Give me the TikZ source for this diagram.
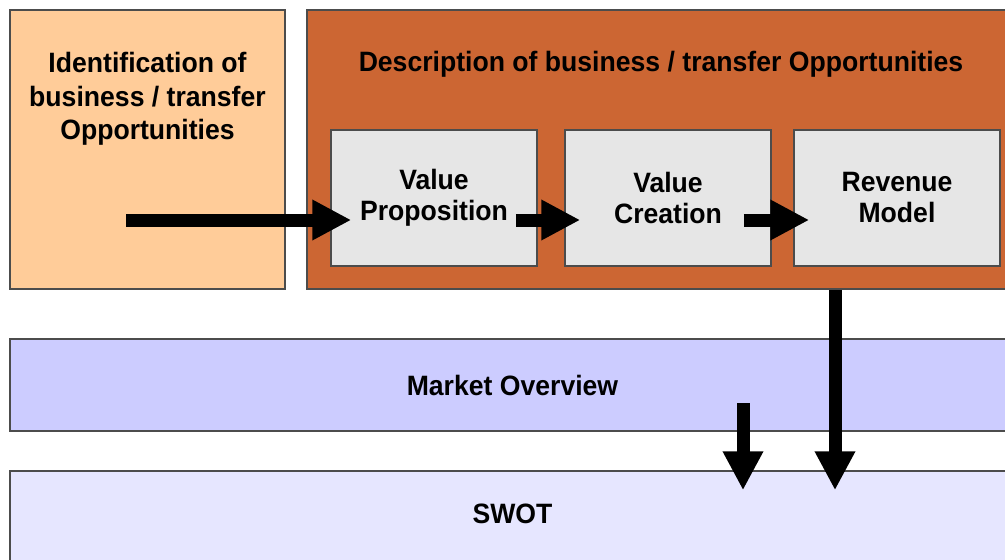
\documentclass[tikz,border=0pt]{standalone}
\usepackage{fontspec}
\setmainfont[FakeStretch=0.95]{Liberation Sans}
\usetikzlibrary{arrows.meta,calc}

\definecolor{peach}{HTML}{FFCC99}
\definecolor{rust}{HTML}{CC6633}
\definecolor{stepgray}{HTML}{E6E6E6}
\definecolor{lilac}{HTML}{CCCCFF}
\definecolor{palelilac}{HTML}{E6E6FF}

\begin{document}
\begin{tikzpicture}[x=1pt, y=-1pt,
    box/.style={draw=black!70, line width=1.5pt, inner sep=0pt, align=center,
                font=\fontsize{28}{31}\selectfont\bfseries},
    boxtitle/.style={anchor=north, inner sep=0pt, align=center,
                font=\fontsize{28}{33.5}\selectfont\bfseries},
    stepbox/.style={box, fill=stepgray, minimum width=206pt, minimum height=136pt},
    bigarrow/.style={line width=13pt, -{Triangle[width=38pt,length=39pt]}}]
  \useasboundingbox (0,0) rectangle (1005,560);

  % top row
  \node[box, fill=peach, minimum width=275pt, minimum height=279pt,
        label={[boxtitle, yshift=-43pt]north:Identification of\\business / transfer\\Opportunities}]
        (ident) at (147.5,149.5) {};
  \node[box, fill=rust, minimum width=708pt, minimum height=279pt,
        label={[boxtitle, yshift=-42pt]north:Description of business / transfer Opportunities}]
        (desc) at (661,149.5) {};
  \node[stepbox] (vp) at (434,198) {Value\\Proposition};
  \node[stepbox] (vc) at (668,198) {Value\\Creation};
  \node[stepbox] (rm) at (897,198) {Revenue\\Model};

  % lower bands, SWOT runs off the bottom
  \node[box, fill=lilac, minimum width=1005pt, minimum height=92pt] (market) at (512.5,385) {Market Overview};
  \node[box, fill=palelilac, minimum width=1005pt, minimum height=110pt,
        label={[boxtitle, anchor=center, yshift=12pt]center:SWOT}] (swot) at (512.5,526) {};

  % flow
  \coordinate (start) at (126,220);
  \draw[bigarrow, shorten >=-21pt] (start) -- (start -| vp.west);
  \draw[bigarrow, shorten >=-16pt] ($(start -| vp.east)+(-22,0)$) -- (start -| vc.west);
  \draw[bigarrow, shorten >=-16pt] ($(start -| vc.east)+(-28,0)$) -- (start -| rm.west);

  \coordinate (drop) at (835,0);
  \coordinate (mktout) at (743,403);
  \draw[bigarrow, shorten >=-20pt] (drop |- desc.south) -- (drop |- swot.north);
  \draw[bigarrow, shorten >=-20pt] (mktout) -- (mktout |- swot.north);
\end{tikzpicture}
\end{document}
